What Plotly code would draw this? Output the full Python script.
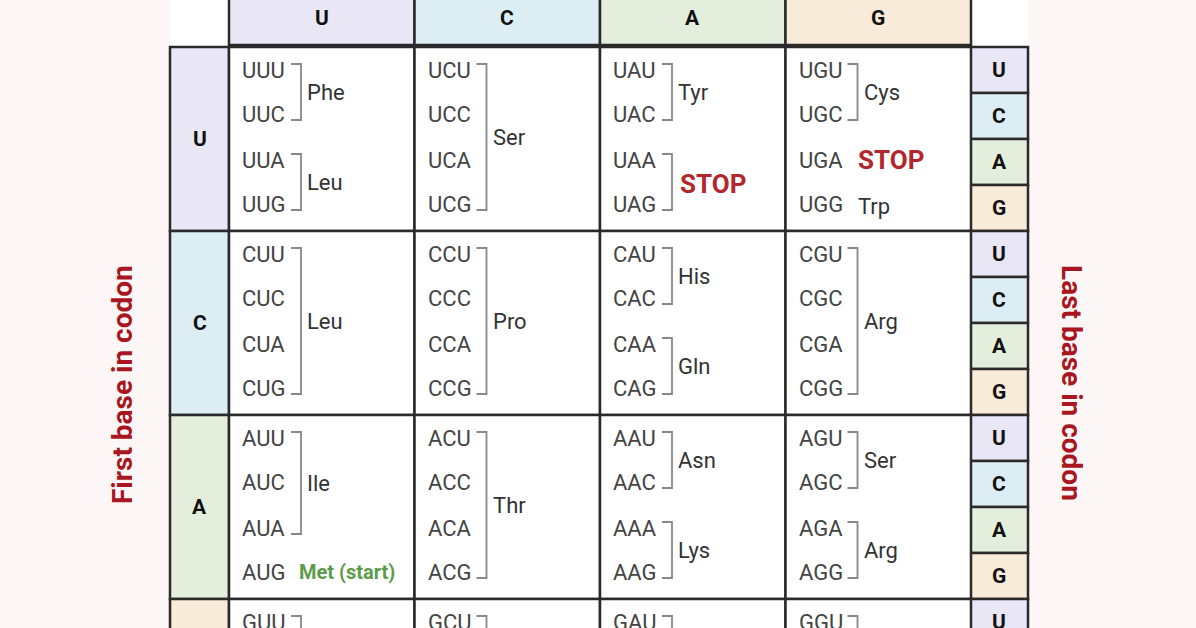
import plotly.graph_objects as go

# bases in table order
bases = ["U", "C", "A", "G"]
base_colors = ["#e9e7f6", "#dceef4", "#e3eedd", "#f9ebd9"]

# amino acid groups per cell: (first codon idx, last codon idx, label, kind)
# kind: "aa" normal with bracket, "stop" red, "plain" no bracket, "start" green
cell_groups = {
    ("U", "U"): [(0, 1, "Phe", "aa"), (2, 3, "Leu", "aa")],
    ("U", "C"): [(0, 3, "Ser", "aa")],
    ("U", "A"): [(0, 1, "Tyr", "aa"), (2, 3, "STOP", "stop")],
    ("U", "G"): [(0, 1, "Cys", "aa"), (2, 2, "STOP", "stopplain"), (3, 3, "Trp", "plain")],
    ("C", "U"): [(0, 3, "Leu", "aa")],
    ("C", "C"): [(0, 3, "Pro", "aa")],
    ("C", "A"): [(0, 1, "His", "aa"), (2, 3, "Gln", "aa")],
    ("C", "G"): [(0, 3, "Arg", "aa")],
    ("A", "U"): [(0, 2, "Ile", "aa"), (3, 3, "Met (start)", "start")],
    ("A", "C"): [(0, 3, "Thr", "aa")],
    ("A", "A"): [(0, 1, "Asn", "aa"), (2, 3, "Lys", "aa")],
    ("A", "G"): [(0, 1, "Ser", "aa"), (2, 3, "Arg", "aa")],
    ("G", "U"): [(0, 3, "Val", "aa")],
    ("G", "C"): [(0, 3, "Ala", "aa")],
    ("G", "A"): [(0, 1, "Asp", "aa"), (2, 3, "Glu", "aa")],
    ("G", "G"): [(0, 3, "Gly", "aa")],
}

left_title = "First base in codon"
right_title = "Last base in codon"

W, H = 1196, 628
col_x0, col_w = 229, 185.5
row_y0, row_h = 47, 184
left_x0, right_x0, side_w = 170, 970, 58
codon_dy = [23, 67, 113, 157]
line_col = "#2a2a2a"
red = "#a8161f"

shapes, annots = [], []

def rect(x0, y0, x1, y1, fill, w=2.5):
    shapes.append(dict(type="rect", x0=x0, y0=y0, x1=x1, y1=y1, fillcolor=fill,
                       line=dict(color=line_col, width=w), layer="below"))

def text(x, y, s, size=22, color="#444", bold=False, xanchor="left", angle=0, font="Roboto"):
    annots.append(dict(x=x, y=y, text=f"<b>{s}</b>" if bold else s, showarrow=False,
                       xanchor=xanchor, yanchor="middle", textangle=angle,
                       font=dict(size=size, color=color, family=font)))

# white table background
shapes.append(dict(type="rect", x0=left_x0, y0=-10, x1=right_x0 + side_w, y1=H + 10,
                   fillcolor="white", line=dict(width=0), layer="below"))

# header row
for j, b in enumerate(bases):
    x0 = col_x0 + j * col_w
    rect(x0, -10, x0 + col_w, row_y0 - 2, base_colors[j])
    text(x0 + col_w / 2, 18, b, bold=True, color="#111", xanchor="center", size=21)

for i, fb in enumerate(bases):
    y0 = row_y0 + i * row_h
    rect(left_x0, y0, col_x0, y0 + row_h, base_colors[i])
    text((left_x0 + col_x0) / 2, y0 + row_h / 2, fb, bold=True, color="#111", xanchor="center", size=21)
    for k, lb in enumerate(bases):
        sy = y0 + k * row_h / 4
        rect(right_x0, sy, right_x0 + side_w, sy + row_h / 4, base_colors[k])
        text(right_x0 + side_w / 2, sy + row_h / 8, lb, bold=True, color="#111", xanchor="center", size=21)
    for j, sb in enumerate(bases):
        x0 = col_x0 + j * col_w
        rect(x0, y0, x0 + col_w, y0 + row_h, "white")
        for k, lb in enumerate(bases):
            text(x0 + 11, y0 + codon_dy[k], fb + sb + lb)
        for a, b2, label, kind in cell_groups[(fb, sb)]:
            ya, yb = y0 + codon_dy[a], y0 + codon_dy[b2]
            ym = (ya + yb) / 2
            if kind in ("aa", "stop"):
                bx = x0 + 72
                shapes.append(dict(type="path",
                                   path=f"M {bx-10},{ya-6} L {bx},{ya-6} L {bx},{yb+6} L {bx-10},{yb+6}",
                                   line=dict(color="#888", width=1.8)))
            if kind == "aa":
                text(x0 + 76, ym, label, color="#333")
            elif kind == "stop":
                text(x0 + 78, ym + 2, label, size=26, color="#b3262c", bold=True)
            elif kind == "stopplain":
                text(x0 + 70, ym, label, size=26, color="#b3262c", bold=True)
            elif kind == "plain":
                text(x0 + 70, ym + 2, label, color="#333")
            elif kind == "start":
                text(x0 + 68, ym, label, color="#5c9a4c", bold=True, size=20)

text(122, 385, left_title, size=28, color=red, bold=True, xanchor="center", angle=-90)
text(1072, 383, right_title, size=28, color=red, bold=True, xanchor="center", angle=90)

fig = go.Figure()
fig.update_layout(width=W, height=H, margin=dict(l=0, r=0, t=0, b=0),
                  paper_bgcolor="#fdf6f6", plot_bgcolor="#fdf6f6",
                  shapes=shapes, annotations=annots, showlegend=False)
fig.update_xaxes(range=[0, W], visible=False, fixedrange=True)
fig.update_yaxes(range=[H, 0], visible=False, fixedrange=True)
fig.write_html("out.html", config={"displayModeBar": False},
               post_script="document.body.style.margin='0';document.body.style.overflow='hidden';")
